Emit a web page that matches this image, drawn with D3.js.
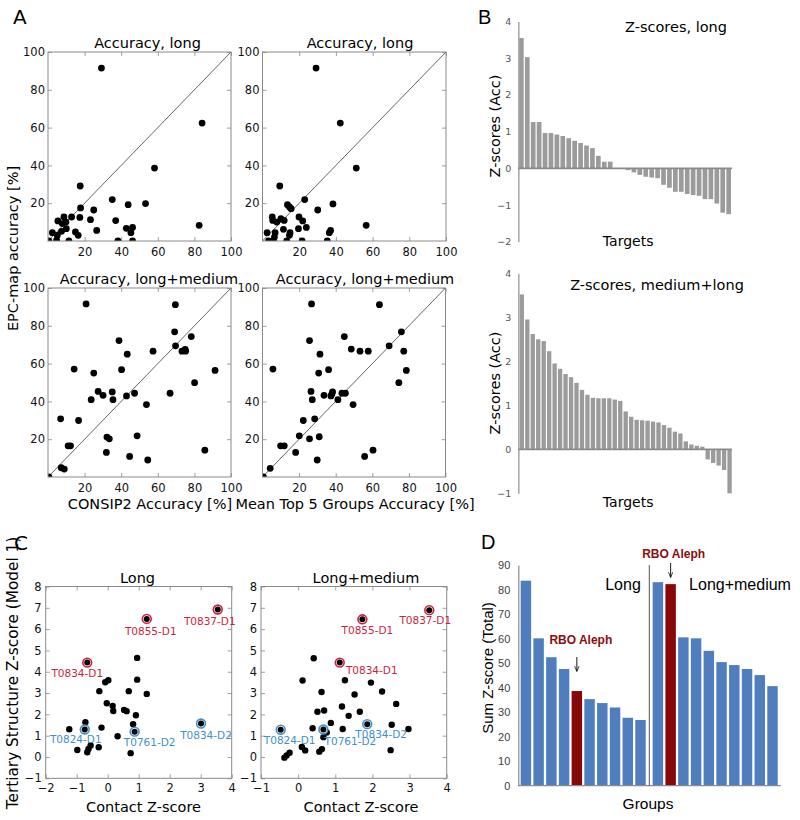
<!DOCTYPE html>
<html><head><meta charset="utf-8">
<script src="https://cdn.jsdelivr.net/npm/d3@7"></script>
<style>body{margin:0;background:#fff}</style>
</head><body>
<script>
// ---------------- DATA ----------------
// Panel A: [x, y] pairs (accuracy %)
const accLongConsip2 = [[29.2,91.5],[84.2,62.4],[58.2,38.6],[17.6,29.1],[35.1,21.9],[43.8,19.2],[53.3,19.8],[17.8,17.5],[17.4,12.5],[25,16.4],[23.2,11.3],[37,10.8],[82.6,8.3],[26.6,5.6],[42.8,6.7],[46.2,7.2],[45.3,4.4],[38.2,0],[46.2,0],[12.9,12.7],[5.4,10.6],[8.7,12.7],[9.8,10],[7.8,9.2],[10,6.5],[7.4,5.1],[2.4,4.4],[5.1,3],[11.4,0],[4.7,0.4],[0.5,0],[15,4.8],[16.5,3]];
const accLongTop5 = [[29.2,91.5],[42.4,62.4],[51.1,38.6],[9.4,29.1],[23,21.9],[38.4,19.6],[13.6,19.2],[14.7,18],[15.6,17.1],[30.1,16.4],[5.3,12.7],[5.6,10.9],[7.8,10],[10,11.8],[11.8,10.9],[19.9,12.7],[21.9,10.6],[56.5,8.3],[23.9,7.2],[19.6,6.5],[11.4,6.2],[37.1,5.6],[36.4,4.4],[15,4.4],[14.7,3],[2.5,4.4],[6.9,4.4],[6.5,2.1],[21.6,0],[35.3,0],[13.2,0],[3.3,0],[6,0]];
const accMedConsip2 = [[20.8,91.6],[69.6,91.2],[69.2,76.8],[78.3,74.3],[38.8,72.2],[69.7,69.4],[73.2,66.6],[75,67.5],[75.2,66.6],[43.3,65],[57.4,66.6],[14.3,57.1],[40.2,56.8],[91.3,56.4],[25,55],[80.1,49.9],[27.4,45.3],[30.1,43.2],[35.1,45],[35.5,40.9],[23.6,40.9],[42.9,42.9],[47.3,44.3],[66.7,44.3],[53.8,38.3],[6.9,30.8],[16.7,29.9],[48.7,21.8],[32.2,21.1],[33.5,20.2],[11,16.5],[12.3,16.5],[31.9,13],[85.7,14.2],[44.6,10.9],[54.5,9],[7.2,4.9],[8.9,4.2],[0.5,0]];
const accMedTop5 = [[26.8,91.6],[63.9,91.2],[75.9,76.8],[44.7,74.3],[25.7,72.2],[69.2,69.4],[48.5,67.7],[53.3,66.6],[57.8,66.6],[77.2,66.6],[31.4,65],[5.7,57.1],[36.1,56.8],[78.6,56.4],[30.7,55],[74.5,49.9],[26.5,45.3],[38.3,45],[37.9,43.9],[37.4,42.9],[33.6,43.2],[43.4,44.3],[45.3,44.3],[41.2,40.9],[27.2,40.9],[49.5,38.3],[28.5,30.8],[22.3,29.9],[20.1,21.8],[31,21.3],[25.7,20.2],[9.9,16.5],[11.9,16.5],[18.1,13],[60.4,14.2],[55.8,10.9],[29.9,9],[4.2,4.6],[0.5,0]];
const accTicks = [20,40,60,80,100];

// Panel B: Z-scores per target
const zLong = [3.55,3.03,1.26,1.26,0.96,0.96,0.92,0.88,0.82,0.75,0.69,0.62,0.55,0.34,0.18,0.18,0,-0.02,-0.05,-0.11,-0.18,-0.23,-0.25,-0.27,-0.45,-0.53,-0.64,-0.64,-0.7,-0.73,-0.75,-0.84,-0.84,-0.96,-1.21,-1.25];
const zMedLong = [3.52,2.95,2.62,2.5,2.46,2.23,1.95,1.83,1.71,1.64,1.51,1.35,1.24,1.17,1.16,1.16,1.16,1.13,1.1,0.86,0.74,0.67,0.66,0.65,0.63,0.61,0.55,0.49,0.4,0.36,0.18,0.11,0.08,0.06,-0.23,-0.31,-0.37,-0.47,-1.0];
const zLongTicks = [-2,-1,0,1,2,3,4];
const zMedTicks = [-1,0,1,2,3,4];

// Panel C: [contact Z, tertiary Z]
const cLong = [[3.55,6.92],[1.26,6.48],[-0.66,4.43],[0.95,4.65],[0.95,3.63],[-0.08,3.51],[0.02,3.6],[-0.27,3.09],[0.68,3.09],[1.26,2.96],[-0.03,2.52],[0.16,2.4],[0.18,2.16],[0.53,2.21],[0.61,2.15],[0.91,1.96],[-0.72,1.63],[0.82,1.54],[3.01,1.57],[-0.2,1.38],[-1.24,1.3],[-0.74,1.29],[0.87,1.19],[0.32,0.97],[-0.55,0.54],[-0.62,0.38],[-0.29,0.46],[-0.98,0.33],[-0.66,0.22],[0.74,0.18]];
const cMed = [[3.53,6.89],[1.73,6.46],[1.12,4.43],[0.42,4.63],[0.12,3.59],[1.26,3.6],[1.96,3.49],[0.63,3.05],[2.26,3.07],[1.52,2.93],[2.64,2.49],[1.18,2.37],[0.52,2.12],[0.7,2.18],[1.66,2.12],[1.36,1.93],[0.88,1.6],[1.86,1.54],[2.52,1.51],[0.39,1.35],[-0.47,1.28],[0.68,1.29],[0.77,1.15],[1.2,1.31],[2.97,1.31],[0.68,0.93],[0.1,0.47],[0.19,0.31],[0.64,0.37],[0.57,0.25],[2.49,0.32],[-0.23,0.2],[-0.31,0.07],[-0.37,-0.03]];
const markedNames = ["T0837-D1","T0855-D1","T0834-D1","T0834-D2","T0824-D1","T0761-D2"];
const markedKind = ["good","good","good","poor","poor","poor"];
const cLongMarked = [[3.55,6.92],[1.26,6.48],[-0.66,4.43],[3.01,1.57],[-0.74,1.29],[0.87,1.19]];
const cMedMarked = [[3.53,6.89],[1.73,6.46],[1.12,4.43],[1.86,1.54],[-0.47,1.28],[0.68,1.29]];
const cLongXTicks = [-2,-1,0,1,2,3,4];
const cMedXTicks = [-1,0,1,2,3,4];
const cYTicks = [-1,0,1,2,3,4,5,6,7,8];

// Panel D: sum Z-scores per group
const dLong = [83.6,60.1,52.4,47.6,38.6,35.3,33.7,31.9,27.7,26.8];
const dLongMed = [83.0,82.2,60.5,60.1,55.0,50.4,49.2,47.6,45.1,40.6];
const dLongHighlight = 4;
const dMedHighlight = 1;
const dTicks = [0,10,20,30,40,50,60,70,80,90];

// ---------------- STYLE / LAYOUT ----------------
const F = "'DejaVu Sans', sans-serif";
const FA = "'Liberation Sans', Arial, sans-serif";
const RED = "#cc1f3d", BLUE = "#3f8fcb";
const labelOffsets = {
  long: [[-8,12],[4,12],[-10,11],[5,12],[-9,10],[15,11]],
  med: [[-4,10],[5,11],[32,8],[14,10],[9,10],[27,12]]
};

const svg = d3.select("body").append("svg").attr("width",800).attr("height",820);
svg.append("rect").attr("width",800).attr("height",820).attr("fill","#fff");

function text(x, y, s, o = {}) {
  const t = svg.append("text").attr("x", x).attr("y", y).text(s)
    .attr("font-family", o.ff || F).attr("font-size", o.fs || 14.5)
    .attr("fill", o.fill || "#000").attr("text-anchor", o.anchor || "middle");
  if (o.weight) t.attr("font-weight", o.weight);
  if (o.rot) t.attr("transform", `rotate(-90,${x},${y})`).attr("dominant-baseline", "central");
  return t;
}

let clipId = 0;
function scatterFrame(o) {
  const x = d3.scaleLinear().domain(o.xd).range([o.left, o.right]);
  const y = d3.scaleLinear().domain(o.yd).range([o.bottom, o.top]);
  const g = svg.append("g");
  const ax = (axis, tr) => {
    const a = g.append("g").attr("transform", tr).call(axis);
    a.select(".domain").remove();
    a.selectAll(".tick line").attr("stroke", "#888").attr("stroke-width", 0.8);
    a.selectAll("text").attr("font-family", F).attr("font-size", o.fs).attr("fill", "#111");
    a.attr("font-family", F).attr("font-size", o.fs);
    return a;
  };
  ax(d3.axisBottom(x).tickValues(o.xt).tickSize(-4).tickPadding(o.xpad).tickFormat(d3.format("d")), `translate(0,${o.bottom})`);
  ax(d3.axisTop(x).tickValues(o.xt).tickSize(-4).tickFormat(""), `translate(0,${o.top})`);
  ax(d3.axisLeft(y).tickValues(o.yt).tickSize(-4).tickPadding(o.ypad).tickFormat(d3.format("d")), `translate(${o.left},0)`);
  ax(d3.axisRight(y).tickValues(o.yt).tickSize(-4).tickFormat(""), `translate(${o.right},0)`);
  const id = "clip" + (clipId++);
  svg.append("clipPath").attr("id", id).append("rect")
    .attr("x", o.left).attr("y", o.top).attr("width", o.right - o.left).attr("height", o.bottom - o.top);
  const inner = g.append("g").attr("clip-path", `url(#${id})`);
  g.append("rect").attr("x", o.left).attr("y", o.top).attr("width", o.right - o.left)
    .attr("height", o.bottom - o.top).attr("fill", "none").attr("stroke", "#8a8a8a").attr("stroke-width", 1);
  return { g, inner, x, y };
}

// ---------------- PANEL A ----------------
function accPanel(data, left, right, top, bottom, title, titleX, titleY) {
  const p = scatterFrame({ xd:[0,100], yd:[0,100], left, right, top, bottom, xt: accTicks, yt: accTicks, fs: 11.5, xpad: 7, ypad: 3 });
  p.inner.append("line").attr("x1", p.x(0)).attr("y1", p.y(0)).attr("x2", p.x(100)).attr("y2", p.y(100))
    .attr("stroke", "#222").attr("stroke-width", 0.7);
  p.inner.selectAll("circle.pt").data(data).join("circle").attr("class","pt")
    .attr("cx", d => p.x(d[0])).attr("cy", d => p.y(d[1])).attr("r", 3.4).attr("fill", "#000");
  text(titleX, titleY, title);
}
accPanel(accLongConsip2, 48, 231, 52, 241, "Accuracy, long", 147.5, 48.3);
accPanel(accLongTop5, 262.5, 446, 52, 241, "Accuracy, long", 360, 48.3);
accPanel(accMedConsip2, 48, 231, 288, 477, "Accuracy, long+medium", 149, 284.3);
accPanel(accMedTop5, 262.5, 445.5, 288, 477, "Accuracy, long+medium", 365, 284.3);
text(12.5, 248.5, "EPC-map accuracy [%]", { rot: true });
text(150, 508.5, "CONSIP2 Accuracy [%]");
text(355, 508.5, "Mean Top 5 Groups Accuracy [%]");
text(13, 24, "A", { fs: 20, anchor: "start" });

// ---------------- PANEL B ----------------
function zPanel(vals, ticks, yd, left, right, top, bottom, xs, title, titleX, titleY, targetsY, ylabY) {
  const x = d3.scaleBand().domain(d3.range(vals.length)).range(xs).paddingInner(0.21).paddingOuter(0.05);
  const y = d3.scaleLinear().domain(yd).range([bottom, top]);
  const g = svg.append("g");
  g.selectAll("rect").data(vals).join("rect")
    .attr("x", (d, i) => x(i)).attr("width", x.bandwidth())
    .attr("y", d => Math.min(y(d), y(0))).attr("height", d => Math.abs(y(d) - y(0)))
    .attr("fill", "#9b9b9b");
  const a = g.append("g").attr("transform", `translate(${left},0)`)
    .call(d3.axisLeft(y).tickValues(ticks).tickSize(0).tickPadding(7).tickFormat(d3.format("d")));
  a.select(".domain").attr("stroke", "#aaa").attr("stroke-width", 1.6);
  a.selectAll("text").attr("font-family", F).attr("font-size", 9.5).attr("fill", "#555");
  g.append("line").attr("x1", left).attr("x2", right).attr("y1", y(0)).attr("y2", y(0))
    .attr("stroke", "#8a8a8a").attr("stroke-width", 1.8);
  text(titleX, titleY, title);
  text((left + right) / 2 + 3, targetsY, "Targets", { fs: 14 });
  text(495, ylabY, "Z-scores (Acc)", { rot: true });
}
zPanel(zLong, zLongTicks, [-2, 4], 518.3, 732, 21.5, 241.7, [518.7, 731.3], "Z-scores, long", 676, 31.7, 246, 126);
zPanel(zMedLong, zMedTicks, [-1, 4], 518.3, 732, 273.3, 493.3, [519.4, 732], "Z-scores, medium+long", 657, 290, 506.5, 383);
text(478, 23.5, "B", { fs: 20, anchor: "start", ff: FA });

// ---------------- PANEL C ----------------
function cPanel(pts, marked, offs, xd, xt, left, right, title, titleX, xlabX) {
  const p = scatterFrame({ xd, yd: [-1, 8], left, right, top: 586.5, bottom: 778.3, xt, yt: cYTicks, fs: 11.5, xpad: 5.5, ypad: 4 });
  p.inner.selectAll("circle.pt").data(pts).join("circle").attr("class","pt")
    .attr("cx", d => p.x(d[0])).attr("cy", d => p.y(d[1])).attr("r", 3.2).attr("fill", "#000");
  marked.forEach((d, i) => {
    const col = markedKind[i] === "good" ? RED : BLUE;
    const cx = p.x(d[0]), cy = p.y(d[1]);
    p.g.append("circle").attr("cx", cx).attr("cy", cy).attr("r", 4.4).attr("fill", "#fff")
      .attr("stroke", col).attr("stroke-width", 1.6);
    p.g.append("circle").attr("cx", cx).attr("cy", cy).attr("r", 3).attr("fill", "#000");
    text(cx + offs[i][0], cy + offs[i][1] + 3.8, markedNames[i], { fs: 10.5, fill: col });
  });
  text(titleX, 583.3, title);
  text(xlabX, 811.5, "Contact Z-score");
}
cPanel(cLong, cLongMarked, labelOffsets.long, [-2, 4], cLongXTicks, 45.7, 231.7, "Long", 137.5, 143.5);
cPanel(cMed, cMedMarked, labelOffsets.med, [-1, 4], cMedXTicks, 261, 446.7, "Long+medium", 366, 361);
text(13.3, 673, "Tertiary Structure Z-score (Model 1)", { rot: true, fs: 15.3 });
text(14, 550, "C", { fs: 20, anchor: "start" });

// ---------------- PANEL D ----------------
(function () {
  const y = d3.scaleLinear().domain([0, 90]).range([785.7, 565]);
  const xl = d3.scaleBand().domain(d3.range(dLong.length)).range([519.4, 647]).paddingInner(0.18).paddingOuter(0.1);
  const xr = d3.scaleBand().domain(d3.range(dLongMed.length)).range([651.4, 779]).paddingInner(0.18).paddingOuter(0.1);
  const g = svg.append("g");
  g.selectAll("rect.l").data(dLong).join("rect").attr("class", "l")
    .attr("x", (d, i) => xl(i)).attr("width", xl.bandwidth())
    .attr("y", d => y(d)).attr("height", d => y(0) - y(d))
    .attr("fill", (d, i) => i === dLongHighlight ? "#870808" : "#4f7dbd");
  g.selectAll("rect.r").data(dLongMed).join("rect").attr("class", "r")
    .attr("x", (d, i) => xr(i)).attr("width", xr.bandwidth())
    .attr("y", d => y(d)).attr("height", d => y(0) - y(d))
    .attr("fill", (d, i) => i === dMedHighlight ? "#870808" : "#4f7dbd");
  const a = g.append("g").attr("transform", "translate(518.3,0)")
    .call(d3.axisLeft(y).tickValues(dTicks).tickSize(0).tickPadding(8));
  a.select(".domain").attr("stroke", "#8a8a8a").attr("stroke-width", 1.2);
  a.selectAll("text").attr("font-family", FA).attr("font-size", 11).attr("fill", "#404040");
  g.append("line").attr("x1", 518.3).attr("x2", 780.7).attr("y1", y(0)).attr("y2", y(0))
    .attr("stroke", "#8a8a8a").attr("stroke-width", 1.2);
  g.append("line").attr("x1", 649.3).attr("x2", 649.3).attr("y1", y(90)).attr("y2", y(0))
    .attr("stroke", "#555").attr("stroke-width", 1);
  svg.append("defs").append("marker").attr("id", "arr").attr("viewBox", "0 0 10 10")
    .attr("refX", 9).attr("refY", 5).attr("markerWidth", 6).attr("markerHeight", 6).attr("orient", "auto")
    .append("path").attr("d", "M0,1 L10,5 L0,9").attr("fill", "none").attr("stroke", "#000").attr("stroke-width", 1.4);
  const ax1 = xl(dLongHighlight) + xl.bandwidth() / 2;
  const ax2 = xr(dMedHighlight) + xr.bandwidth() / 2;
  g.append("line").attr("x1", ax1).attr("x2", ax1).attr("y1", 657).attr("y2", 671)
    .attr("stroke", "#000").attr("stroke-width", 0.9).attr("marker-end", "url(#arr)");
  g.append("line").attr("x1", ax2).attr("x2", ax2).attr("y1", 563).attr("y2", 577)
    .attr("stroke", "#000").attr("stroke-width", 0.9).attr("marker-end", "url(#arr)");
  text(ax1 + 4, 644, "RBO Aleph", { ff: FA, fs: 12, weight: "bold", fill: "#8b0c0c" });
  text(ax2 + 3, 558.3, "RBO Aleph", { ff: FA, fs: 12, weight: "bold", fill: "#8b0c0c" });
  text(623, 590, "Long", { ff: FA, fs: 16 });
  text(740, 590, "Long+medium", { ff: FA, fs: 16 });
  text(648, 809, "Groups", { ff: FA, fs: 15.5 });
  text(487, 668, "Sum Z-score (Total)", { ff: FA, fs: 15 });
  svg.select("text:last-of-type");
})();
// rotate D y label
svg.selectAll("text").filter(function () { return d3.select(this).text() === "Sum Z-score (Total)"; })
  .attr("transform", "rotate(-90,487,668)").attr("dominant-baseline", "central");
text(481, 549, "D", { fs: 20, anchor: "start", ff: FA });
</script>
</body></html>
